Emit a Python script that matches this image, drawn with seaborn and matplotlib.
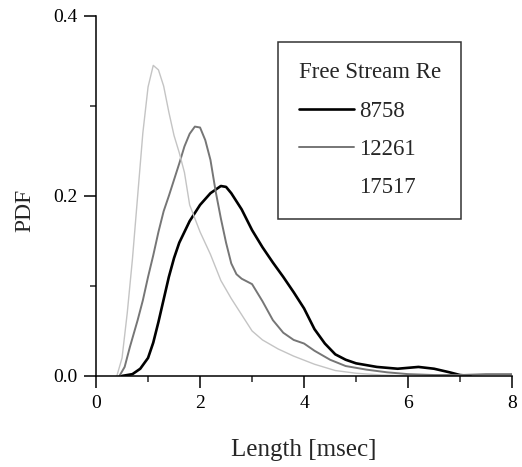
import numpy as np
import matplotlib
matplotlib.use("Agg")
import matplotlib.pyplot as plt
from matplotlib.lines import Line2D
import pandas as pd
import seaborn as sns

# values
x_8758 = [0.5, 0.7, 0.85, 1.0, 1.1, 1.2, 1.3, 1.4, 1.5, 1.6, 1.8, 2.0, 2.2, 2.4, 2.5, 2.6, 2.8, 3.0,
          3.2, 3.4, 3.6, 3.8, 4.0, 4.2, 4.4, 4.6, 4.8, 5.0, 5.4, 5.8, 6.2, 6.5, 6.8, 7.0, 7.2]
y_8758 = [0.0, 0.002, 0.008, 0.02, 0.037, 0.06, 0.085, 0.11, 0.131, 0.148, 0.172, 0.19, 0.203, 0.211, 0.21,
          0.203, 0.185, 0.162, 0.143, 0.126, 0.11, 0.093, 0.075, 0.052, 0.036, 0.024, 0.018, 0.014,
          0.01, 0.008, 0.01, 0.008, 0.004, 0.001, 0.0]

x_12261 = [0.45, 0.55, 0.65, 0.8, 0.9, 1.0, 1.1, 1.2, 1.3, 1.4, 1.5, 1.6, 1.7, 1.8, 1.9, 2.0, 2.1, 2.2,
           2.3, 2.4, 2.5, 2.6, 2.7, 2.8, 3.0, 3.2, 3.4, 3.6, 3.8, 4.0, 4.2, 4.5, 4.8, 5.2, 5.6, 6.0,
           6.5, 7.0, 7.5, 8.0]
y_12261 = [0.0, 0.01, 0.032, 0.062, 0.084, 0.11, 0.134, 0.16, 0.183, 0.2, 0.218, 0.236, 0.255, 0.269,
           0.277, 0.276, 0.262, 0.24, 0.205, 0.175, 0.148, 0.125, 0.113, 0.108, 0.102, 0.083, 0.062,
           0.048, 0.04, 0.036, 0.028, 0.018, 0.011, 0.007, 0.004, 0.002, 0.001, 0.001, 0.002, 0.002]

x_17517 = [0.4, 0.5, 0.6, 0.7, 0.8, 0.9, 1.0, 1.1, 1.2, 1.3, 1.4, 1.5, 1.6, 1.7, 1.8, 2.0, 2.2, 2.4,
           2.6, 2.8, 3.0, 3.2, 3.5, 3.8, 4.2, 4.6, 5.0, 5.5, 6.0]
y_17517 = [0.0, 0.02, 0.07, 0.13, 0.2, 0.27, 0.321, 0.345, 0.34, 0.322, 0.293, 0.267, 0.248, 0.226,
           0.19, 0.16, 0.135, 0.106, 0.086, 0.068, 0.05, 0.04, 0.03, 0.022, 0.013, 0.006, 0.003,
           0.001, 0.0]

labels = ["8758", "12261", "17517"]
colors = ["black", "#767676", "#c4c4c4"]
widths = [1.9, 1.4, 1.0]

sns.set_style("ticks")
plt.rcParams["font.family"] = ["Liberation Serif", "DejaVu Serif"]

fig = plt.figure(figsize=(5.22, 4.67), dpi=100)
ax = fig.add_axes([0.184, 0.195, 0.797, 0.771])

series = [(x_8758, y_8758), (x_12261, y_12261), (x_17517, y_17517)]
for (xs, ys), lab, c, lw in zip(series, labels, colors, widths):
    df = pd.DataFrame({"x": xs, "y": ys})
    sns.lineplot(data=df, x="x", y="y", ax=ax, color=c, linewidth=lw, label=lab)

ax.set_xlim(0, 8)
ax.set_ylim(0, 0.4)
ax.set_xticks([0, 2, 4, 6, 8])
ax.set_xticks([1, 3, 5, 7], minor=True)
ax.set_yticks([0.0, 0.2, 0.4])
ax.set_yticklabels(["0.0", "0.2", "0.4"])
ax.set_yticks([0.1, 0.3], minor=True)
ax.tick_params(which="major", direction="out", length=8.5, width=1.1, labelsize=14,
               colors="black", pad=5)
ax.tick_params(which="minor", direction="out", length=4.5, width=1.1)
for s in ["top", "right"]:
    ax.spines[s].set_visible(False)
for s in ["left", "bottom"]:
    ax.spines[s].set_linewidth(1.1)
    ax.spines[s].set_color("black")

ax.set_xlabel("Length [msec]", fontsize=18, labelpad=20)
ax.set_ylabel("PDF", fontsize=17)
ax.yaxis.set_label_coords(-0.145, 0.46)

# legend: the third entry has no visible handle in the reference
handles, labs = ax.get_legend_handles_labels()
handles[2] = Line2D([], [], color="white", linewidth=0)
leg = ax.legend(handles, labs, title="Free Stream Re", fontsize=16.5, title_fontsize=16.5,
                loc="upper left", bbox_to_anchor=(0.4375, 0.928), borderaxespad=0,
                frameon=True, fancybox=False, edgecolor="black", handlelength=2.4,
                handletextpad=0.25, labelspacing=0.75, borderpad=0.9, alignment="left")
leg.get_frame().set_linewidth(1.1)

fig.savefig("out.png", dpi=100)
